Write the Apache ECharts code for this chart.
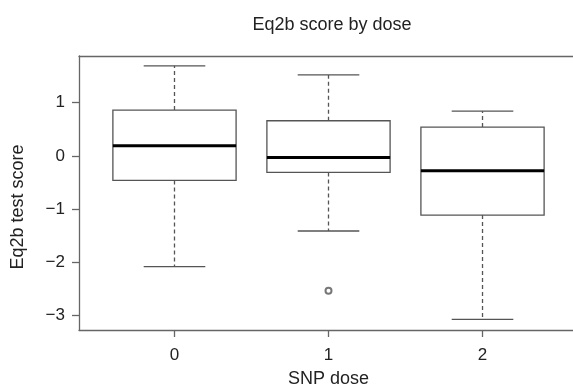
<!DOCTYPE html>
<html>
<head>
<meta charset="utf-8">
<script src="https://cdn.jsdelivr.net/npm/echarts@6/dist/echarts.min.js"></script>
<style>
  html, body { margin: 0; padding: 0; background: #fff; }
  #chart { width: 573px; height: 388px; }
</style>
</head>
<body>
<div id="chart"></div>
<script>
// box stats, one entry per SNP dose
const doses = ['0', '1', '2']
const lowerWhisker = [-2.08, -1.41, -3.07]
const q1 = [-0.46, -0.31, -1.11]
const median = [0.19, -0.03, -0.28]
const q3 = [0.86, 0.66, 0.54]
const upperWhisker = [1.69, 1.52, 0.84]
const outliers = [[1, -2.53]]
const yTicks = [-3, -2, -1, 0, 1]

const font = 'Liberation Sans, Arial, sans-serif'
const grey = '#666'
const minus = v => (v < 0 ? '\u2212' + Math.abs(v) : String(v))

const boxData = doses.map((d, i) => [i, lowerWhisker[i], q1[i], median[i], q3[i], upperWhisker[i]])

function renderBox(params, api) {
  const x = api.value(0)
  const pt = v => api.coord([x, v])
  const cx = pt(api.value(1))[0]
  const yLo = pt(api.value(1))[1]
  const yQ1 = pt(api.value(2))[1]
  const yMed = pt(api.value(3))[1]
  const yQ3 = pt(api.value(4))[1]
  const yHi = pt(api.value(5))[1]
  const half = api.size([1, 0])[0] * 0.4
  const cap = half * 0.5
  const edge = { stroke: '#555', lineWidth: 1.3, fill: null }
  const dash = { stroke: '#555', lineWidth: 1.3, lineDash: [4, 3] }

  return {
    type: 'group',
    children: [
      { type: 'line', shape: { x1: cx, y1: yQ3, x2: cx, y2: yHi }, style: dash },
      { type: 'line', shape: { x1: cx, y1: yQ1, x2: cx, y2: yLo }, style: dash },
      { type: 'line', shape: { x1: cx - cap, y1: yHi, x2: cx + cap, y2: yHi }, style: edge },
      { type: 'line', shape: { x1: cx - cap, y1: yLo, x2: cx + cap, y2: yLo }, style: edge },
      { type: 'rect', shape: { x: cx - half, y: yQ3, width: half * 2, height: yQ1 - yQ3 }, style: edge },
      { type: 'line', shape: { x1: cx - half, y1: yMed, x2: cx + half, y2: yMed }, style: { stroke: '#000', lineWidth: 3 } }
    ]
  }
}

const chart = echarts.init(document.getElementById('chart'))

chart.setOption({
  animation: false,
  backgroundColor: '#fff',
  textStyle: { fontFamily: font },
  title: {
    text: 'Eq2b score by dose',
    left: 327,
    top: 11,
    textAlign: 'center',
    textStyle: { fontFamily: font, fontSize: 18, fontWeight: 'normal', color: '#222' }
  },
  grid: { left: 79, right: -5, top: 56, bottom: 58, outerBoundsMode: 'none', containLabel: false },
  xAxis: [
    {
      type: 'value',
      min: -0.62,
      max: 2.62,
      name: 'SNP dose',
      nameLocation: 'middle',
      nameGap: 40,
      nameTextStyle: { fontFamily: font, fontSize: 18, color: '#222' },
      axisLine: { show: true, onZero: false, lineStyle: { color: grey, width: 1.3 } },
      axisTick: { show: true, length: 7, customValues: [0, 1, 2], lineStyle: { color: grey, width: 1.3 } },
      axisLabel: {
        customValues: [0, 1, 2],
        margin: 17,
        fontFamily: font,
        fontSize: 17,
        color: '#222',
        formatter: v => doses[Math.round(v)]
      },
      splitLine: { show: false }
    },
    {
      type: 'value',
      position: 'top',
      min: -0.62,
      max: 2.62,
      axisLine: { show: true, onZero: false, lineStyle: { color: grey, width: 1.3 } },
      axisTick: { show: false },
      axisLabel: { show: false },
      splitLine: { show: false }
    }
  ],
  yAxis: {
    type: 'value',
    min: -3.268,
    max: 1.875,
    name: 'Eq2b test score',
    nameLocation: 'middle',
    nameGap: 52,
    // R centres this label a little lower than the plot middle
    nameTextStyle: { fontFamily: font, fontSize: 18, color: '#222', padding: [0, 28, 0, 0] },
    axisLine: { show: true, onZero: false, lineStyle: { color: grey, width: 1.3 } },
    axisTick: { show: true, length: 7, customValues: yTicks, lineStyle: { color: grey, width: 1.3 } },
    axisLabel: {
      customValues: yTicks,
      margin: 14,
      fontFamily: font,
      fontSize: 17,
      color: '#222',
      formatter: minus
    },
    splitLine: { show: false }
  },
  series: [
    {
      type: 'custom',
      xAxisIndex: 0,
      renderItem: renderBox,
      encode: { x: 0, y: [1, 2, 3, 4, 5] },
      data: boxData,
      clip: false
    },
    {
      type: 'scatter',
      xAxisIndex: 0,
      symbol: 'emptyCircle',
      symbolSize: 6,
      itemStyle: { color: '#555', borderColor: '#555', borderWidth: 1.2 },
      data: outliers
    }
  ]
})
</script>
</body>
</html>
